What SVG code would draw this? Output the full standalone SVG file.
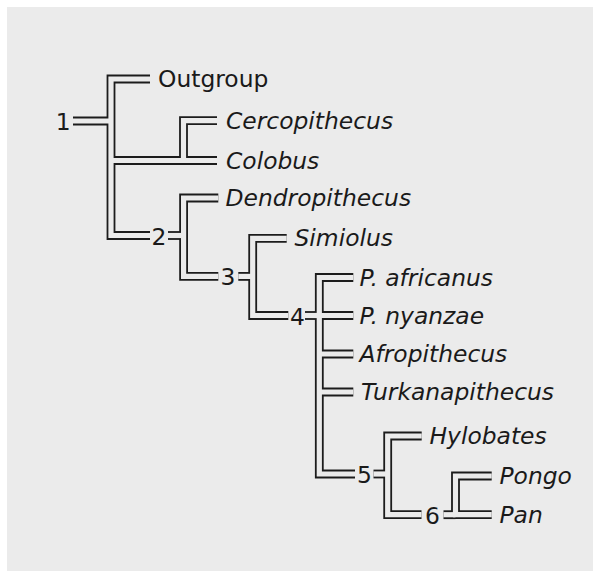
<svg xmlns="http://www.w3.org/2000/svg" xmlns:xlink="http://www.w3.org/1999/xlink" width="593" height="571" viewBox="0 0 593 571">
  <style>
    .bg { fill: #ebebeb; }
    #tree path { fill: none; stroke-linejoin: miter; stroke-linecap: butt; }
    .outer { fill: none; stroke: #1c1c1c; stroke-width: 8.8; }
    .inner { fill: none; stroke: #ebebeb; stroke-width: 5.2; }
    .taxon { font-family: "DejaVu Sans", "Liberation Sans", sans-serif; font-size: 23.4px; fill: #1a1a1a; font-style: italic; }
    .plain { font-style: normal; }
    .num { font-family: "DejaVu Sans", "Liberation Sans", sans-serif; font-size: 23.4px; fill: #1a1a1a; text-anchor: middle; }
  </style>
  <defs>
    <g id="tree" fill="none">
      <path d="M73,121 H111"/>
      <path d="M150,79 H111 V235.5 H150"/>
      <path d="M111,160.5 H217"/>
      <path d="M217,120.7 H183.5 V160.5"/>
      <path d="M168,235.5 H183.6"/>
      <path d="M218.3,198 H183.6 V276.4 H218.3"/>
      <path d="M238.3,276.4 H252.7"/>
      <path d="M286.7,238.3 H252.7 V315.5 H288.3"/>
      <path d="M305,315.5 H319.3"/>
      <path d="M353.3,277.5 H319.3 V474 H355"/>
      <path d="M319.3,315.5 H353.3"/>
      <path d="M319.3,354 H353.3"/>
      <path d="M319.3,392 H353.3"/>
      <path d="M373.5,474 H387.7"/>
      <path d="M421.7,436 H387.7 V514.7 H421.5"/>
      <path d="M443.5,514.7 H455.5"/>
      <path d="M491.7,476 H455.5 V514.7 H491.7"/>
    </g>
  </defs>
  <rect class="bg" x="7" y="7" width="586" height="564"/>
  <g id="connectors">
    <use href="#tree" xlink:href="#tree" class="outer"/>
    <use href="#tree" xlink:href="#tree" class="inner"/>
  </g>
  <g id="node-1"><text class="num" x="63.3" y="129.5">1</text></g>
  <g id="node-2"><text class="num" x="159" y="244.5">2</text></g>
  <g id="node-3"><text class="num" x="228" y="285.4">3</text></g>
  <g id="node-4"><text class="num" x="297.5" y="324.5">4</text></g>
  <g id="node-5"><text class="num" x="364.5" y="483">5</text></g>
  <g id="node-6"><text class="num" x="432.5" y="523.7">6</text></g>
  <g id="taxon-outgroup"><text class="taxon plain" x="158" y="87">Outgroup</text></g>
  <g id="taxon-cercopithecus"><text class="taxon" x="226" y="128.7">Cercopithecus</text></g>
  <g id="taxon-colobus"><text class="taxon" x="226" y="168.5">Colobus</text></g>
  <g id="taxon-dendropithecus"><text class="taxon" x="225.5" y="206">Dendropithecus</text></g>
  <g id="taxon-simiolus"><text class="taxon" x="294.5" y="246.3">Simiolus</text></g>
  <g id="taxon-p-africanus"><text class="taxon" x="359.5" y="285.5">P. africanus</text></g>
  <g id="taxon-p-nyanzae"><text class="taxon" x="359.5" y="323.5">P. nyanzae</text></g>
  <g id="taxon-afropithecus"><text class="taxon" x="359.5" y="362">Afropithecus</text></g>
  <g id="taxon-turkanapithecus"><text class="taxon" x="361" y="400">Turkanapithecus</text></g>
  <g id="taxon-hylobates"><text class="taxon" x="429.5" y="444">Hylobates</text></g>
  <g id="taxon-pongo"><text class="taxon" x="499.5" y="484">Pongo</text></g>
  <g id="taxon-pan"><text class="taxon" x="499.5" y="522.7">Pan</text></g>
</svg>
